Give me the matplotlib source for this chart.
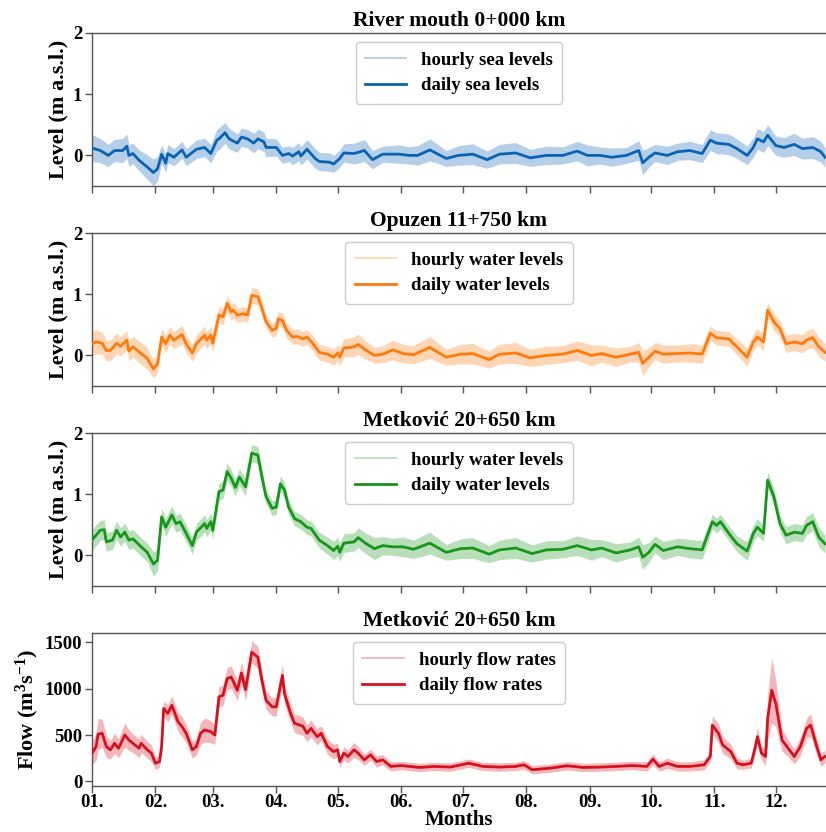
import matplotlib
matplotlib.use("Agg")
import matplotlib.pyplot as plt
from matplotlib.lines import Line2D
import numpy as np

# ── Data (day of year) ───────────────────────────────────────────────────
month_starts = [0, 31, 59, 90, 120, 151, 181, 212, 243, 273, 304, 334]
month_labels = ["01.", "02.", "03.", "04.", "05.", "06.",
                "07.", "08.", "09.", "10.", "11.", "12."]

# River mouth 0+000 km - daily sea levels and hourly half-range
mouth_days = [0, 4, 8, 11, 15, 17, 18, 20, 23, 27, 30, 32, 34, 36, 37, 40, 44, 46, 51, 55,
              58, 61, 62, 65, 67, 71, 73, 76, 79, 81, 84, 85, 90, 93, 96, 98, 101, 102, 105, 109,
              111, 116, 118, 121, 123, 128, 133, 137, 142, 150, 155, 159, 165, 173, 179, 186, 193, 199, 207, 214,
              222, 230, 237, 242, 248, 254, 261, 267, 269, 272, 275, 281, 286, 292, 298, 302, 305, 311, 315, 320,
              323, 325, 328, 330, 334, 338, 343, 347, 352, 356, 358]
mouth_daily = [0.12, 0.08, 0.0, 0.08, 0.08, 0.15, 0.0, 0.03, -0.08, -0.19,
               -0.28, -0.22, 0.02, -0.13, 0.03, -0.03, 0.09, -0.03, 0.10, 0.13,
               0.03, 0.25, 0.27, 0.37, 0.27, 0.20, 0.30, 0.27, 0.20, 0.27,
               0.22, 0.13, 0.13, 0.0, 0.03, -0.01, 0.06, -0.01, 0.10, -0.05,
               -0.10, -0.11, -0.14, -0.05, 0.04, 0.03, 0.08, -0.07, 0.02, 0.02,
               0.0, 0.0, 0.09, -0.05, 0.0, 0.02, -0.07, 0.02, 0.04, -0.04,
               0.0, 0.0, 0.07, 0.0, 0.0, -0.03, 0.0, 0.08, -0.12, -0.03,
               0.04, 0.0, 0.06, 0.08, 0.03, 0.25, 0.20, 0.18, 0.11, 0.0,
               0.13, 0.27, 0.22, 0.33, 0.16, 0.13, 0.18, 0.11, 0.13, 0.06, -0.03]
mouth_hourly_spread = [0.22, 0.2, 0.18, 0.18, 0.2, 0.2, 0.18, 0.17, 0.17, 0.2,
                       0.22, 0.2, 0.15, 0.15, 0.15, 0.14, 0.14, 0.14, 0.15, 0.15,
                       0.15, 0.18, 0.18, 0.17, 0.17, 0.15, 0.15, 0.15, 0.16, 0.16,
                       0.16, 0.15, 0.14, 0.13, 0.13, 0.14, 0.15, 0.15, 0.16, 0.16,
                       0.15, 0.15, 0.14, 0.14, 0.15, 0.17, 0.18, 0.15, 0.13, 0.15,
                       0.14, 0.16, 0.18, 0.13, 0.16, 0.17, 0.14, 0.16, 0.17, 0.14,
                       0.15, 0.14, 0.16, 0.17, 0.14, 0.15, 0.13, 0.16, 0.2, 0.16,
                       0.14, 0.15, 0.14, 0.15, 0.15, 0.17, 0.17, 0.17, 0.16, 0.15,
                       0.16, 0.17, 0.17, 0.17, 0.16, 0.16, 0.18, 0.17, 0.18, 0.17, 0.16]

# Opuzen 11+750 km - water levels
opuzen_days = [0, 2, 5, 7, 9, 12, 14, 17, 18, 20, 24, 27, 30, 32, 34, 36, 38, 40, 44, 46,
               49, 51, 55, 56, 58, 59, 62, 64, 66, 68, 69, 71, 74, 76, 78, 81, 83, 85, 88, 90,
               91, 93, 95, 98, 100, 103, 105, 108, 111, 115, 118, 120, 121, 123, 128, 130, 134, 138, 142, 147,
               152, 157, 165, 173, 180, 186, 194, 199, 207, 214, 222, 230, 237, 244, 249, 256, 263, 267, 269, 272,
               275, 279, 286, 292, 298, 302, 305, 311, 315, 320, 323, 325, 328, 330, 333, 336, 339, 343, 347, 349,
               352, 355, 358]
opuzen_daily = [0.19, 0.22, 0.20, 0.08, 0.08, 0.20, 0.15, 0.25, 0.07, 0.14,
                0.03, -0.05, -0.22, -0.14, 0.30, 0.19, 0.33, 0.25, 0.34, 0.19,
                0.04, 0.19, 0.33, 0.25, 0.33, 0.20, 0.66, 0.63, 0.85, 0.71,
                0.74, 0.66, 0.68, 0.66, 0.98, 0.96, 0.77, 0.55, 0.41, 0.44,
                0.60, 0.57, 0.41, 0.30, 0.31, 0.27, 0.30, 0.19, 0.05, 0.02,
                -0.03, 0.04, -0.03, 0.12, 0.14, 0.18, 0.08, 0.0, 0.02, 0.09,
                0.03, 0.01, 0.13, -0.03, 0.02, 0.03, -0.07, 0.02, 0.04, -0.04,
                0.0, 0.02, 0.08, 0.0, 0.03, -0.03, 0.02, 0.05, -0.13, -0.03,
                0.07, 0.02, 0.03, 0.04, 0.02, 0.36, 0.29, 0.27, 0.14, -0.03,
                0.22, 0.30, 0.22, 0.74, 0.55, 0.44, 0.19, 0.22, 0.19, 0.25,
                0.29, 0.14, 0.05]
opuzen_hourly_spread = [0.2, 0.2, 0.18, 0.17, 0.17, 0.17, 0.16, 0.16, 0.16, 0.17,
                        0.18, 0.18, 0.15, 0.14, 0.14, 0.14, 0.14, 0.14, 0.15, 0.14,
                        0.14, 0.15, 0.15, 0.14, 0.14, 0.14, 0.14, 0.13, 0.13, 0.13,
                        0.13, 0.12, 0.12, 0.12, 0.13, 0.13, 0.12, 0.11, 0.11, 0.12,
                        0.12, 0.12, 0.12, 0.12, 0.12, 0.12, 0.12, 0.13, 0.13, 0.13,
                        0.13, 0.14, 0.14, 0.15, 0.16, 0.17, 0.15, 0.13, 0.14, 0.16,
                        0.15, 0.15, 0.18, 0.13, 0.16, 0.17, 0.14, 0.16, 0.17, 0.14,
                        0.15, 0.14, 0.16, 0.17, 0.14, 0.15, 0.13, 0.16, 0.2, 0.16,
                        0.14, 0.15, 0.14, 0.15, 0.15, 0.12, 0.12, 0.12, 0.13, 0.15,
                        0.14, 0.13, 0.14, 0.13, 0.14, 0.13, 0.14, 0.14, 0.15, 0.15,
                        0.16, 0.16, 0.15]

# Metković 20+650 km - water levels
metkovic_days = [0, 2, 4, 6, 7, 10, 12, 14, 16, 18, 20, 24, 27, 30, 32, 34, 36, 39, 41, 43,
                 46, 49, 51, 55, 56, 58, 59, 62, 64, 66, 68, 70, 72, 75, 78, 81, 83, 85, 88, 90,
                 92, 94, 96, 99, 102, 105, 107, 111, 115, 118, 120, 121, 123, 128, 130, 134, 138, 142, 147, 152,
                 157, 165, 173, 180, 186, 194, 199, 207, 215, 222, 230, 237, 244, 249, 256, 263, 267, 269, 272, 275,
                 279, 286, 292, 298, 303, 305, 307, 311, 315, 320, 323, 325, 328, 330, 333, 336, 339, 343, 347, 349,
                 352, 355, 358]
metkovic_daily = [0.25, 0.33, 0.41, 0.42, 0.22, 0.25, 0.41, 0.30, 0.38, 0.25,
                  0.27, 0.14, 0.05, -0.14, -0.08, 0.63, 0.46, 0.66, 0.52, 0.55,
                  0.36, 0.16, 0.38, 0.52, 0.44, 0.55, 0.41, 1.04, 1.07, 1.37,
                  1.26, 1.11, 1.28, 1.12, 1.67, 1.64, 1.28, 0.96, 0.77, 0.79,
                  1.17, 1.07, 0.79, 0.60, 0.55, 0.46, 0.44, 0.25, 0.16, 0.08,
                  0.15, 0.05, 0.20, 0.22, 0.29, 0.19, 0.11, 0.16, 0.14, 0.14,
                  0.10, 0.20, 0.05, 0.11, 0.12, 0.02, 0.09, 0.12, 0.03, 0.09,
                  0.10, 0.16, 0.09, 0.12, 0.04, 0.09, 0.14, -0.03, 0.05, 0.18,
                  0.08, 0.14, 0.11, 0.09, 0.55, 0.49, 0.55, 0.36, 0.19, 0.07,
                  0.36, 0.46, 0.36, 1.23, 0.96, 0.52, 0.33, 0.38, 0.36, 0.49,
                  0.55, 0.30, 0.19]
metkovic_hourly_spread = [0.17, 0.17, 0.16, 0.16, 0.15, 0.15, 0.15, 0.15, 0.15, 0.15,
                          0.15, 0.15, 0.15, 0.2, 0.18, 0.14, 0.15, 0.15, 0.14, 0.14,
                          0.14, 0.14, 0.14, 0.14, 0.14, 0.14, 0.14, 0.14, 0.14, 0.14,
                          0.14, 0.14, 0.14, 0.14, 0.14, 0.14, 0.13, 0.12, 0.12, 0.12,
                          0.13, 0.13, 0.12, 0.12, 0.12, 0.12, 0.12, 0.13, 0.14, 0.15,
                          0.15, 0.15, 0.15, 0.15, 0.16, 0.17, 0.18, 0.15, 0.14, 0.16,
                          0.15, 0.18, 0.13, 0.16, 0.17, 0.14, 0.16, 0.17, 0.14, 0.15,
                          0.14, 0.16, 0.17, 0.14, 0.15, 0.13, 0.16, 0.2, 0.16, 0.14,
                          0.15, 0.14, 0.15, 0.15, 0.12, 0.12, 0.12, 0.12, 0.13, 0.15,
                          0.14, 0.14, 0.13, 0.14, 0.13, 0.14, 0.14, 0.14, 0.14, 0.15,
                          0.15, 0.16, 0.15]

# Metković 20+650 km - flow rates
flow_days = [0, 2, 3, 5, 7, 9, 11, 13, 16, 18, 20, 23, 24, 27, 29, 31, 33, 34, 35, 37,
             39, 42, 44, 46, 49, 51, 53, 55, 58, 60, 62, 64, 66, 68, 71, 73, 75, 78, 81, 83,
             85, 88, 90, 93, 94, 97, 99, 103, 105, 107, 110, 112, 115, 118, 120, 121, 123, 125, 128, 130,
             133, 136, 139, 142, 146, 151, 155, 160, 167, 175, 184, 191, 199, 207, 211, 215, 224, 232, 240, 248,
             256, 264, 271, 274, 277, 281, 286, 292, 299, 302, 303, 306, 308, 312, 315, 318, 322, 324, 325, 327,
             329, 330, 332, 334, 337, 340, 343, 346, 349, 351, 354, 356, 358]
flow_daily = [304, 375, 510, 518, 375, 340, 410, 357, 500, 446,
              410, 357, 410, 340, 304, 196, 214, 375, 786, 732,
              821, 643, 589, 518, 340, 375, 518, 554, 536, 500,
              911, 929, 1107, 1125, 982, 1168, 989, 1393, 1339, 1089,
              875, 804, 804, 1143, 946, 732, 625, 596, 518, 571,
              482, 518, 375, 321, 340, 214, 304, 268, 340, 304,
              232, 286, 214, 232, 161, 171, 161, 150, 161, 154,
              196, 161, 154, 161, 179, 125, 143, 168, 150, 154,
              161, 171, 161, 239, 161, 196, 161, 161, 179, 268,
              607, 518, 393, 321, 196, 179, 196, 375, 482, 304,
              268, 679, 982, 839, 446, 357, 268, 375, 571, 607,
              375, 232, 268]
flow_hourly_spread = [120, 150, 170, 150, 120, 100, 110, 100, 130, 110,
                      100, 100, 100, 90, 90, 70, 60, 80, 80, 90,
                      100, 100, 110, 100, 90, 90, 120, 130, 120, 100,
                      110, 110, 120, 120, 110, 120, 120, 120, 120, 110,
                      100, 100, 100, 120, 110, 100, 100, 100, 90, 90,
                      90, 80, 80, 80, 70, 60, 70, 70, 80, 70,
                      60, 60, 60, 55, 50, 45, 45, 45, 45, 45,
                      45, 45, 45, 45, 45, 45, 45, 45, 45, 45,
                      45, 45, 50, 60, 50, 55, 50, 50, 55, 60,
                      100, 100, 90, 80, 60, 50, 50, 80, 100, 70,
                      100, 250, 350, 250, 120, 90, 80, 100, 110, 120,
                      90, 70, 70]

# ── Style ────────────────────────────────────────────────────────────────
plt.rcParams["font.family"] = "serif"
plt.rcParams["font.serif"] = ["Liberation Serif", "DejaVu Serif"]
plt.rcParams["font.weight"] = "bold"
plt.rcParams["axes.titleweight"] = "bold"
plt.rcParams["axes.labelweight"] = "bold"
plt.rcParams["mathtext.fontset"] = "custom"
plt.rcParams["mathtext.rm"] = "Liberation Serif:bold"
plt.rcParams["mathtext.it"] = "Liberation Serif:bold"
plt.rcParams["mathtext.bf"] = "Liberation Serif:bold"

SPINE_COL = "#555555"

panels = [
    dict(title="River mouth 0+000 km", days=mouth_days, daily=mouth_daily,
         spread=mouth_hourly_spread, color="#0a62b4",
         labels=("hourly sea levels", "daily sea levels"),
         ylabel="Level (m a.s.l.)", ylim=(-0.5, 2), yticks=[0, 1, 2]),
    dict(title="Opuzen 11+750 km", days=opuzen_days, daily=opuzen_daily,
         spread=opuzen_hourly_spread, color="#ff7a0a",
         labels=("hourly water levels", "daily water levels"),
         ylabel="Level (m a.s.l.)", ylim=(-0.5, 2), yticks=[0, 1, 2]),
    dict(title="Metković 20+650 km", days=metkovic_days, daily=metkovic_daily,
         spread=metkovic_hourly_spread, color="#16961a",
         labels=("hourly water levels", "daily water levels"),
         ylabel="Level (m a.s.l.)", ylim=(-0.5, 2), yticks=[0, 1, 2]),
    dict(title="Metković 20+650 km", days=flow_days, daily=flow_daily,
         spread=flow_hourly_spread, color="#d8101e",
         labels=("hourly flow rates", "daily flow rates"),
         ylabel="Flow (m$^3$s$^{-1}$)", ylim=(-50, 1600), yticks=[0, 500, 1000, 1500]),
]

W, H = 826, 832
fig = plt.figure(figsize=(W / 100, H / 100), dpi=100)
left = 92 / W

for i, p in enumerate(panels):
    top_px = 33 + 200 * i
    bot_px = 186 + 200 * i
    ax = fig.add_axes([left, 1 - bot_px / H, 1 - left, (bot_px - top_px) / H])

    d = np.array(p["days"], dtype=float)
    v = np.array(p["daily"], dtype=float)
    s = np.array(p["spread"], dtype=float)
    ax.fill_between(d, v - s, v + s, color=p["color"], alpha=0.3, lw=0, zorder=2)
    ax.plot(d, v, color=p["color"], lw=2.0, zorder=3)

    handles = [Line2D([], [], color=p["color"], alpha=0.33, lw=1.2),
               Line2D([], [], color=p["color"], lw=2.0)]
    ax.legend(handles, p["labels"], loc="upper center", fontsize=13.5,
              handlelength=2.2, labelspacing=0.45, borderpad=0.5,
              edgecolor="#cccccc", framealpha=1.0)

    ax.set_title(p["title"], fontsize=15.5, pad=5)
    ax.set_ylabel(p["ylabel"], fontsize=16, labelpad=3)
    ax.set_xlim(0, 358.5)
    ax.set_ylim(*p["ylim"])
    ax.set_yticks(p["yticks"])
    ax.set_xticks(month_starts)
    if i == len(panels) - 1:
        ax.set_xticklabels(month_labels)
        ax.set_xlabel("Months", fontsize=15, labelpad=-1)
    else:
        ax.set_xticklabels([])

    ax.tick_params(labelsize=13.5, length=5, width=1, color=SPINE_COL, pad=2)
    ax.tick_params(axis="x", pad=1)
    ax.spines["right"].set_visible(False)
    for side in ("left", "top", "bottom"):
        ax.spines[side].set_color(SPINE_COL)
        ax.spines[side].set_linewidth(1.0)

fig.savefig("out.png", dpi=100)
